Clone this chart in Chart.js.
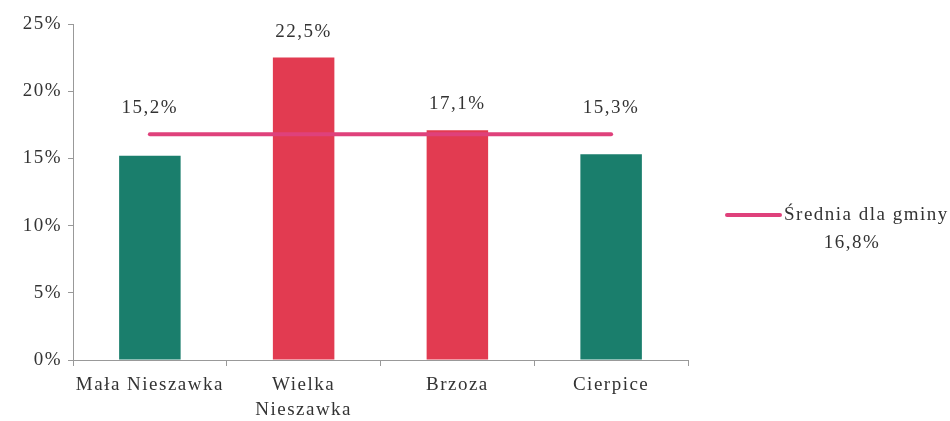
<!DOCTYPE html>
<html><head><meta charset="utf-8">
<script src="https://cdn.jsdelivr.net/npm/chart.js@4/dist/chart.umd.min.js"></script>
<style>html,body{margin:0;padding:0;background:#fff;}#wrap{width:950px;height:421px;position:relative;}</style>
</head><body><div id="wrap"><canvas id="c" width="950" height="421"></canvas></div>
<script>
const categories = [["Mała Nieszawka"], ["Wielka", "Nieszawka"], ["Brzoza"], ["Cierpice"]];
const values = [15.2, 22.5, 17.1, 15.3];
const valueLabels = ["15,2%", "22,5%", "17,1%", "15,3%"];
const average = 16.8;
const averageLabel = ["Średnia dla gminy", "16,8%"];
const yTicks = [0, 5, 10, 15, 20, 25];

const TEAL = '#1a7e6c', RED = '#e23b51', PINK = '#df417b';
const barColors = [TEAL, RED, RED, TEAL];
const FONT = "'Liberation Serif', 'DejaVu Serif', serif";
const SPACING = '1.5px';

const spacingPlugin = {
  id: 'spacingPlugin',
  beforeUpdate(chart) { chart.ctx.letterSpacing = SPACING; },
  beforeDraw(chart) { chart.ctx.letterSpacing = SPACING; }
};

const labelsPlugin = {
  id: 'labelsPlugin',
  afterDatasetsDraw(chart) {
    const ctx = chart.ctx;
    const meta = chart.getDatasetMeta(0);
    const y = chart.scales.y;
    ctx.save();
    ctx.letterSpacing = SPACING;
    ctx.font = "19px " + FONT;
    ctx.fillStyle = '#333';
    ctx.textAlign = 'center';
    ctx.textBaseline = 'middle';
    meta.data.forEach((bar, i) => {
      const top = y.getPixelForValue(Math.max(values[i], average));
      ctx.fillText(valueLabels[i], bar.x, top - 26);
    });
    // legend
    const ly = 215;
    ctx.strokeStyle = PINK; ctx.lineWidth = 4; ctx.lineCap = 'round';
    ctx.beginPath(); ctx.moveTo(727, ly); ctx.lineTo(780, ly); ctx.stroke();
    ctx.textAlign = 'left';
    ctx.fillText(averageLabel[0], 784, ly);
    ctx.textAlign = 'center';
    ctx.fillText(averageLabel[1], 852, ly + 28);
    ctx.restore();
  }
};

new Chart(document.getElementById('c'), {
  data: {
    labels: categories,
    datasets: [
      { type: 'bar', data: values, backgroundColor: barColors, barPercentage: 0.4, categoryPercentage: 1, order: 1 },
      { type: 'line', data: categories.map(() => average), borderColor: PINK, borderWidth: 4, pointRadius: 0, borderCapStyle: 'round', order: 0 }
    ]
  },
  options: {
    responsive: false, animation: false,
    layout: { padding: { left: 0, right: 262, top: 24, bottom: 0 } },
    plugins: { legend: { display: false }, tooltip: { enabled: false } },
    scales: {
      x: {
        offset: true,
        grid: { offset: true, drawOnChartArea: false, drawTicks: true, tickLength: 6, color: '#999' },
        border: { color: '#999', width: 1 },
        ticks: { color: '#333', font: { family: FONT, size: 19, lineHeight: 1.35 }, maxRotation: 0, autoSkip: false, padding: 6 },
        afterFit(s) { s.height = 61; }
      },
      y: {
        min: 0, max: 25,
        afterBuildTicks(s) { s.ticks = yTicks.map(v => ({ value: v })); },
        grid: { drawOnChartArea: false, drawTicks: true, tickLength: 5, color: '#999' },
        border: { color: '#999', width: 1 },
        ticks: { color: '#333', font: { family: FONT, size: 19 }, padding: 6, callback: v => v + '%' },
        afterFit(s) { s.width = 73; }
      }
    }
  },
  plugins: [spacingPlugin, labelsPlugin]
});
</script></body></html>
